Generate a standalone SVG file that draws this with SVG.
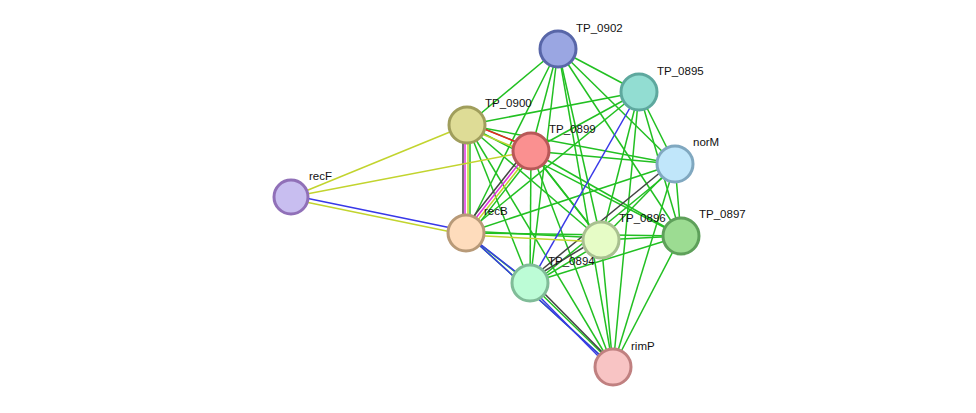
<svg xmlns="http://www.w3.org/2000/svg" width="976" height="413" viewBox="0 0 976 413">
<style>
.g{stroke:#22c022;stroke-width:1.5;fill:none}
.y{stroke:#c2d42e;stroke-width:1.5}
.b{stroke:#3838e8;stroke-width:1.5}
.k{stroke:#444;stroke-width:1.5}
.m{stroke:#e030e0;stroke-width:1.5}
.r{stroke:#ee2020;stroke-width:1.5}
.n{stroke-width:3}
text{font-family:"Liberation Sans",Arial,sans-serif;font-size:11.5px;fill:#111}
</style>
<rect width="976" height="413" fill="#fff"/>
<g id="edges">
<g class="g">
<line x1="558" y1="49" x2="467" y2="125"/><line x1="558" y1="49" x2="531" y2="151"/><line x1="558" y1="49" x2="675" y2="164"/><line x1="558" y1="49" x2="466" y2="233"/><line x1="558" y1="49" x2="601" y2="240"/><line x1="558" y1="49" x2="681" y2="236"/><line x1="558" y1="49" x2="530" y2="283"/><line x1="558" y1="49" x2="639" y2="92"/><line x1="558" y1="49" x2="613" y2="367"/>
<line x1="639" y1="92" x2="467" y2="125"/><line x1="639" y1="92" x2="531" y2="151"/><line x1="639" y1="92" x2="675" y2="164"/><line x1="639" y1="92" x2="466" y2="233"/><line x1="639" y1="92" x2="601" y2="240"/><line x1="639" y1="92" x2="681" y2="236"/><line x1="639" y1="92" x2="613" y2="367"/>
<line x1="467" y1="125" x2="675" y2="164"/><line x1="467" y1="125" x2="601" y2="240"/><line x1="467" y1="125" x2="530" y2="283"/><line x1="467" y1="125" x2="613" y2="367"/><line x1="467" y1="125" x2="681" y2="236"/>
<line x1="531" y1="151" x2="675" y2="164"/><line x1="531" y1="151" x2="601" y2="240"/><line x1="531" y1="151" x2="681" y2="236"/><line x1="531" y1="151" x2="530" y2="283"/><line x1="531" y1="151" x2="613" y2="367"/><line x1="533" y1="153" x2="603" y2="242"/>
<line x1="675" y1="164" x2="466" y2="233"/><line x1="675" y1="164" x2="601" y2="240"/><line x1="675" y1="164" x2="681" y2="236"/><line x1="675" y1="164" x2="613" y2="367"/><line x1="677" y1="166" x2="532" y2="285"/>
<line x1="466" y1="233" x2="681" y2="236"/><line x1="466" y1="231" x2="601" y2="238"/><line x1="466" y1="233" x2="613" y2="367"/><line x1="468" y1="235" x2="532" y2="285"/>
<line x1="601" y1="240" x2="681" y2="236"/><line x1="601" y1="240" x2="613" y2="367"/><line x1="602" y1="242" x2="531" y2="285"/>
<line x1="681" y1="236" x2="530" y2="283"/><line x1="681" y1="236" x2="613" y2="367"/>
<line x1="530" y1="283" x2="614" y2="365"/>
<line x1="470" y1="123" x2="534" y2="149"/><line x1="470" y1="126" x2="470" y2="233"/><line x1="534" y1="153" x2="469" y2="236"/>
</g>
<line class="r" x1="467" y1="122" x2="531" y2="148"/>
<line class="y" x1="467" y1="128" x2="531" y2="154"/>
<line class="k" x1="463" y1="125" x2="463" y2="233"/>
<line class="m" x1="465" y1="125" x2="465" y2="233"/>
<line class="y" x1="468" y1="125" x2="468" y2="233"/>
<line class="k" x1="527" y1="149" x2="462" y2="231"/>
<line class="m" x1="529" y1="151" x2="464" y2="233"/>
<line class="y" x1="531" y1="153" x2="466" y2="235"/>
<line class="y" x1="291" y1="197" x2="467" y2="125"/>
<line class="y" x1="291" y1="197" x2="531" y2="151"/>
<line class="b" x1="291" y1="195" x2="466" y2="231"/>
<line class="y" x1="291" y1="199" x2="466" y2="235"/>
<line class="b" x1="466" y1="233" x2="530" y2="283"/>
<line class="b" x1="639" y1="92" x2="530" y2="283"/>
<line class="k" x1="673" y1="162" x2="528" y2="281"/>
<line class="k" x1="599" y1="238" x2="528" y2="281"/>
<line class="y" x1="466" y1="235" x2="601" y2="242"/>
<line class="b" x1="528" y1="285" x2="611" y2="369"/>
<line class="k" x1="532" y1="281" x2="615" y2="365"/>
<line class="b" x1="466" y1="233" x2="613" y2="367"/>
</g>
<g id="TP_0902"><circle class="n" cx="558" cy="49" r="18" fill="#9aa6e2" stroke="#5866a8"/><text x="576" y="32">TP_0902</text></g>
<g id="TP_0895"><circle class="n" cx="639" cy="92" r="18" fill="#92ddd2" stroke="#5ea89e"/><text x="657" y="75">TP_0895</text></g>
<g id="TP_0900"><circle class="n" cx="467" cy="125" r="18" fill="#dedc96" stroke="#a09e5c"/><text x="485" y="107">TP_0900</text></g>
<g id="TP_0899"><circle class="n" cx="531" cy="151" r="18" fill="#fa9090" stroke="#b85858"/><text x="549" y="133">TP_0899</text></g>
<g id="norM"><circle class="n" cx="675" cy="164" r="18" fill="#c0e6fa" stroke="#80a8c0"/><text x="693" y="146">norM</text></g>
<g id="recF"><circle class="n" cx="291" cy="197" r="17" fill="#c8bef0" stroke="#9070b8"/><text x="309" y="180">recF</text></g>
<g id="recB"><circle class="n" cx="466" cy="233" r="18" fill="#fedcbc" stroke="#b89a78"/><text x="484" y="215">recB</text></g>
<g id="TP_0896"><circle class="n" cx="601" cy="240" r="18" fill="#e6fcc6" stroke="#a8c090"/><text x="619" y="222">TP_0896</text></g>
<g id="TP_0897"><circle class="n" cx="681" cy="236" r="18" fill="#9cdc92" stroke="#5ea05a"/><text x="699" y="218">TP_0897</text></g>
<g id="TP_0894"><circle class="n" cx="530" cy="283" r="18" fill="#bcfcd6" stroke="#80bc98"/><text x="548" y="265">TP_0894</text></g>
<g id="rimP"><circle class="n" cx="613" cy="367" r="18" fill="#f8c4c4" stroke="#c08080"/><text x="631" y="350">rimP</text></g>
</svg>
